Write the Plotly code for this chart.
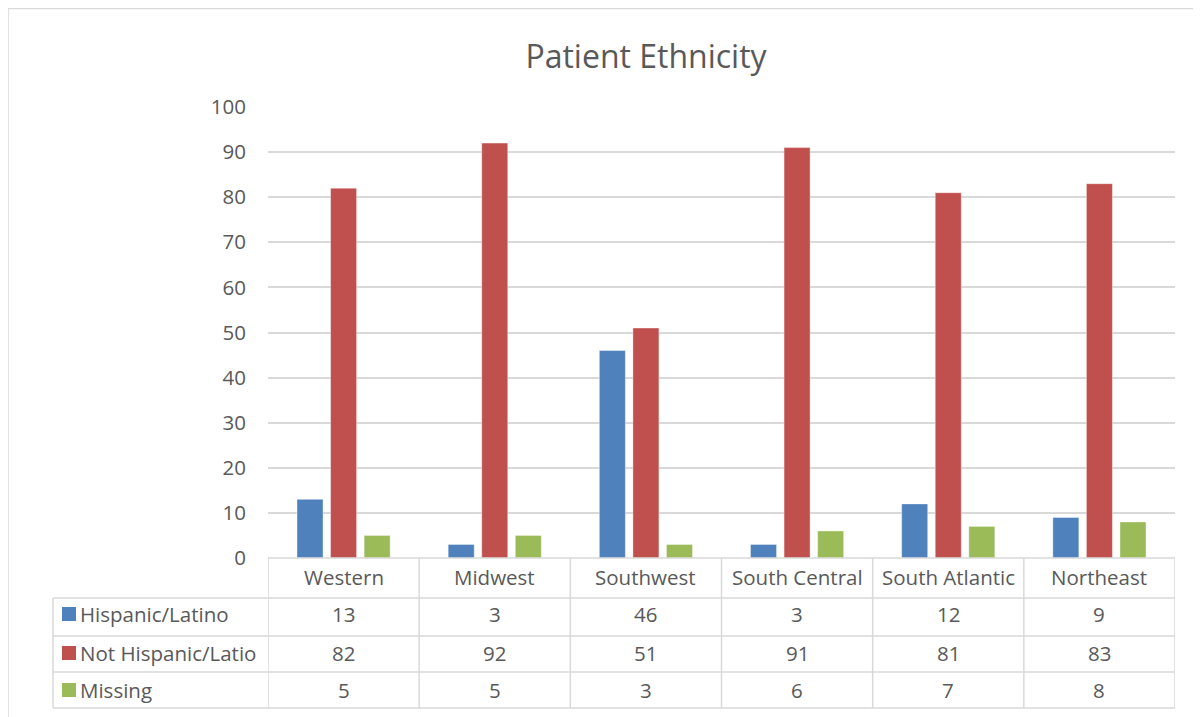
import plotly.graph_objects as go

categories = ["Western", "Midwest", "Southwest", "South Central", "South Atlantic", "Northeast"]
series_names = ["Hispanic/Latino", "Not Hispanic/Latio", "Missing"]
hispanic = [13, 3, 46, 3, 12, 9]
not_hispanic = [82, 92, 51, 91, 81, 83]
missing = [5, 5, 3, 6, 7, 8]
colors = ["#4F81BD", "#C0504D", "#9BBB59"]
y_ticks = [0, 10, 20, 30, 40, 50, 60, 70, 80, 90, 100]

OFF = 8  # page body margin
W, H = 1201 - OFF, 717 - OFF
L, R, T, B = 268 - OFF, 1175 - OFF, 107 - OFF, 558 - OFF
pw, ph = R - L, B - T

def px(x):  # page x -> paper
    return (x - OFF - L) / pw

def py(y):  # page y -> paper
    return (B - (y - OFF)) / ph

FONT = "Open Sans"
TXT = "#595959"
GRID = "#D9D9D9"
FS = 20.5

series = [hispanic, not_hispanic, missing]
fig = go.Figure()
for name, vals, c in zip(series_names, series, colors):
    fig.add_trace(go.Bar(x=list(range(len(categories))), y=vals, name=name,
                         marker=dict(color=c, line=dict(width=0.8, color="rgba(255,255,255,0.5)"))))

shapes = []
# white strip on the far right (chart area continues past the window)
shapes.append(dict(type="rect", xref="paper", yref="paper", x0=px(1178), x1=px(1215), y0=py(0), y1=py(730),
                   fillcolor="white", line=dict(width=0)))
# outer chart border (top and left edges visible)
shapes.append(dict(type="line", xref="paper", yref="paper", x0=px(8), x1=px(1215), y0=py(8.5), y1=py(8.5),
                   line=dict(color=GRID, width=1.5)))
shapes.append(dict(type="line", xref="paper", yref="paper", x0=px(8), x1=px(8), y0=py(8.5), y1=py(717),
                   line=dict(color=GRID, width=1.5), layer="below"))
row_y = [598, 636, 672, 708]
for yy in row_y:
    shapes.append(dict(type="line", xref="paper", yref="paper", x0=px(53), x1=px(1175), y0=py(yy), y1=py(yy),
                       line=dict(color=GRID, width=1.5)))
shapes.append(dict(type="line", xref="paper", yref="paper", x0=0, x1=1, y0=0, y1=0,
                   line=dict(color=GRID, width=1.5)))
shapes.append(dict(type="line", xref="paper", yref="paper", x0=px(53), x1=px(53), y0=py(598), y1=py(708),
                   line=dict(color=GRID, width=1.5)))
for i in range(len(categories) + 1):
    shapes.append(dict(type="line", xref="x", yref="paper", x0=i - 0.5, x1=i - 0.5, y0=0, y1=py(708),
                       line=dict(color=GRID, width=1.5)))

annotations = []
row_centers = [614, 653, 690]
for i, cat in enumerate(categories):
    annotations.append(dict(x=i, y=py(577), xref="x", yref="paper", text=cat, showarrow=False,
                            font=dict(family=FONT, size=FS, color=TXT), xanchor="center", yanchor="middle"))
    for vals, yc in zip(series, row_centers):
        annotations.append(dict(x=i, y=py(yc), xref="x", yref="paper", text=str(vals[i]), showarrow=False,
                                font=dict(family=FONT, size=FS, color=TXT), xanchor="center", yanchor="middle"))
for name, c, yc in zip(series_names, colors, row_centers):
    shapes.append(dict(type="rect", xref="paper", yref="paper", x0=px(62), x1=px(76), y0=py(yc - 7), y1=py(yc + 7),
                       fillcolor=c, line=dict(width=0)))
    annotations.append(dict(x=px(78), y=py(yc), xref="paper", yref="paper", text=name, showarrow=False,
                            font=dict(family=FONT, size=FS, color=TXT), xanchor="left", yanchor="middle"))

fig.update_layout(
    width=W, height=H,
    margin=dict(l=L, r=W - R, t=T, b=H - B, pad=0),
    paper_bgcolor="white", plot_bgcolor="white",
    title=dict(text="Patient Ethnicity", x=(646 - OFF) / W, y=1 - (57 - OFF) / H, xanchor="center", yanchor="middle",
               font=dict(family=FONT, size=32, color=TXT)),
    showlegend=False,
    barmode="group", bargap=0.334, bargroupgap=0.224,
    xaxis=dict(range=[-0.5, len(categories) - 0.5], showticklabels=False, showgrid=False,
               zeroline=False, showline=False, ticks=""),
    yaxis=dict(range=[0, 100], tickvals=y_ticks, showgrid=True, gridcolor=GRID, gridwidth=1.5,
               zeroline=False, showline=False, ticks="", ticklabelstandoff=21,
               tickfont=dict(family=FONT, size=FS, color=TXT)),
    shapes=shapes, annotations=annotations,
)
fig.write_html("out.html",
               post_script="document.documentElement.style.overflow='hidden';document.body.style.overflow='hidden';")
